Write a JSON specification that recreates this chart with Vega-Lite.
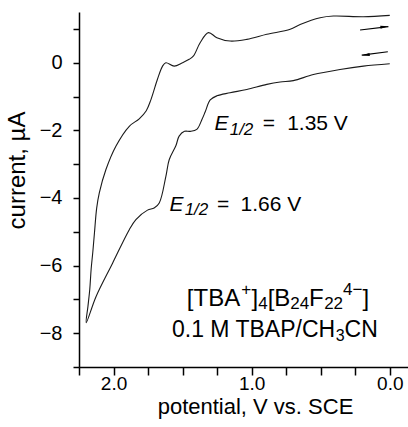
{
  "$schema": "https://vega.github.io/schema/vega-lite/v6.json",
  "width": 329,
  "height": 355,
  "autosize": {"type": "none"},
  "padding": {"left": 79, "top": 12, "right": 0, "bottom": 60},
  "config": {
    "view": {"stroke": null},
    "font": "Liberation Sans",
    "text": {"font": "Liberation Sans", "color": "black", "align": "left", "baseline": "alphabetic"}
  },
  "datasets": {
    "cv": [
      {"k": 0, "E": 0.0, "I": -0.03},
      {"k": 1, "E": 0.191, "I": -0.1},
      {"k": 2, "E": 0.36, "I": -0.2},
      {"k": 3, "E": 0.553, "I": -0.35},
      {"k": 4, "E": 0.698, "I": -0.53},
      {"k": 5, "E": 0.794, "I": -0.57},
      {"k": 6, "E": 0.89, "I": -0.64},
      {"k": 7, "E": 1.035, "I": -0.79},
      {"k": 8, "E": 1.156, "I": -0.89},
      {"k": 9, "E": 1.252, "I": -0.98},
      {"k": 10, "E": 1.3, "I": -1.1},
      {"k": 11, "E": 1.336, "I": -1.45},
      {"k": 12, "E": 1.36, "I": -1.68},
      {"k": 13, "E": 1.397, "I": -1.97},
      {"k": 14, "E": 1.445, "I": -2.03},
      {"k": 15, "E": 1.486, "I": -2.03},
      {"k": 16, "E": 1.525, "I": -2.17},
      {"k": 17, "E": 1.548, "I": -2.45},
      {"k": 18, "E": 1.597, "I": -2.87},
      {"k": 19, "E": 1.621, "I": -3.36},
      {"k": 20, "E": 1.669, "I": -4.15},
      {"k": 21, "E": 1.706, "I": -4.3},
      {"k": 22, "E": 1.754, "I": -4.36},
      {"k": 23, "E": 1.838, "I": -4.64},
      {"k": 24, "E": 1.886, "I": -4.94},
      {"k": 25, "E": 2.007, "I": -5.93},
      {"k": 26, "E": 2.127, "I": -6.92},
      {"k": 27, "E": 2.198, "I": -7.69},
      {"k": 28, "E": 2.185, "I": -7.2},
      {"k": 29, "E": 2.172, "I": -6.7},
      {"k": 30, "E": 2.162, "I": -6.1},
      {"k": 31, "E": 2.15, "I": -5.6},
      {"k": 32, "E": 2.138, "I": -5.03},
      {"k": 33, "E": 2.122, "I": -4.3},
      {"k": 34, "E": 2.103, "I": -3.85},
      {"k": 35, "E": 2.055, "I": -3.16},
      {"k": 36, "E": 1.983, "I": -2.47},
      {"k": 37, "E": 1.886, "I": -1.88},
      {"k": 38, "E": 1.814, "I": -1.66},
      {"k": 39, "E": 1.763, "I": -1.42},
      {"k": 40, "E": 1.729, "I": -1.09},
      {"k": 41, "E": 1.682, "I": -0.49},
      {"k": 42, "E": 1.645, "I": -0.1},
      {"k": 43, "E": 1.621, "I": 0.0},
      {"k": 44, "E": 1.561, "I": -0.1},
      {"k": 45, "E": 1.501, "I": 0.0},
      {"k": 46, "E": 1.452, "I": 0.1},
      {"k": 47, "E": 1.421, "I": 0.2},
      {"k": 48, "E": 1.373, "I": 0.59},
      {"k": 49, "E": 1.313, "I": 0.89},
      {"k": 50, "E": 1.252, "I": 0.74},
      {"k": 51, "E": 1.156, "I": 0.64},
      {"k": 52, "E": 1.035, "I": 0.69},
      {"k": 53, "E": 0.89, "I": 0.84},
      {"k": 54, "E": 0.721, "I": 0.99},
      {"k": 55, "E": 0.649, "I": 1.13},
      {"k": 56, "E": 0.504, "I": 1.33},
      {"k": 57, "E": 0.408, "I": 1.38},
      {"k": 58, "E": 0.191, "I": 1.36},
      {"k": 59, "E": 0.0, "I": 1.4}
    ],
    "arrows": [
      {"a": "top", "E": 0.215, "I": 0.966},
      {"a": "top", "E": 0.01, "I": 1.067},
      {"a": "bot", "E": 0.014, "I": 0.326},
      {"a": "bot", "E": 0.203, "I": 0.225}
    ],
    "headRight": [{"E": 0.039, "I": 1.063}],
    "headLeft": [{"E": 0.174, "I": 0.229}],
    "txtMain": [
      {"E": 0.92, "I": -2.0, "t": "="},
      {"E": 0.743, "I": -2.0, "t": "1.35 V"},
      {"E": 1.25, "I": -4.376, "t": "="},
      {"E": 1.08, "I": -4.376, "t": "1.66 V"}
    ],
    "txtItalic": [
      {"E": 1.269, "I": -2.0, "t": "E"},
      {"E": 1.595, "I": -4.376, "t": "E"}
    ],
    "txtItalicSub": [
      {"E": 1.159, "I": -2.14, "t": "1/2"},
      {"E": 1.485, "I": -4.51, "t": "1/2"}
    ],
    "txtLine1": [
      {"E": 1.469, "I": -7.191, "t": "[TBA"},
      {"E": 1.001, "I": -7.191, "t": "]"},
      {"E": 0.884, "I": -7.191, "t": "[B"},
      {"E": 0.584, "I": -7.191, "t": "F"},
      {"E": 0.198, "I": -7.191, "t": "]"}
    ],
    "txtLine1Small": [
      {"E": 1.076, "I": -6.865, "t": "+"},
      {"E": 0.953, "I": -7.295, "t": "4"},
      {"E": 0.72, "I": -7.295, "t": "24"},
      {"E": 0.475, "I": -7.295, "t": "22"},
      {"E": 0.339, "I": -6.865, "t": "4−"}
    ],
    "txtLine2": [
      {"E": 1.577, "I": -8.124, "t": "0.1 M TBAP/CH"},
      {"E": 0.327, "I": -8.124, "t": "CN"}
    ],
    "txtLine2Small": [
      {"E": 0.392, "I": -8.243, "t": "3"}
    ]
  },
  "encoding": {
    "x": {
      "field": "E", "type": "quantitative",
      "scale": {"domain": [-0.132, 2.25], "reverse": true, "nice": false, "zero": false},
      "axis": {
        "values": [2.25, 2, 1.75, 1.5, 1.25, 1, 0.75, 0.5, 0.25, 0],
        "labelExpr": "abs(datum.value - round(datum.value)) < 0.001 ? format(datum.value, '.1f') : ''",
        "title": "potential, V vs. SCE",
        "titleFontSize": 22, "titleFontWeight": "normal", "titleColor": "black",
        "titleX": 176, "titleY": 46, "titleBaseline": "alphabetic", "titleAlign": "center", "titleAnchor": null,
        "labelFontSize": 19, "labelColor": "black", "labelPadding": -1, "labelFlush": false, "labelOverlap": false,
        "tickSize": 8, "tickColor": "black", "tickWidth": 1.5,
        "domainColor": "black", "domainWidth": 1.5, "grid": false
      }
    },
    "y": {
      "field": "I", "type": "quantitative",
      "scale": {"domain": [-9, 1.5], "nice": false, "zero": false},
      "axis": {
        "values": [-9, -8, -7, -6, -5, -4, -3, -2, -1, 0, 1],
        "labelExpr": "datum.value % 2 == 0 ? format(datum.value, 'd') : ''",
        "title": "current, µA",
        "titleFontSize": 24, "titleFontWeight": "normal", "titleColor": "black",
        "titleX": -55, "titleY": 158, "titleBaseline": "alphabetic", "titleAlign": "center", "titleAnchor": null,
        "labelFontSize": 20, "labelColor": "black", "labelPadding": 11, "labelFlush": false, "labelOverlap": false,
        "tickSize": 6, "tickColor": "black", "tickWidth": 1.5,
        "domainColor": "black", "domainWidth": 1.5, "grid": false
      }
    }
  },
  "layer": [
    {
      "data": {"name": "cv"},
      "mark": {"type": "line", "color": "#1a1a1a", "strokeWidth": 1.1, "interpolate": "catmull-rom"},
      "encoding": {"order": {"field": "k", "type": "quantitative"}}
    },
    {
      "data": {"name": "arrows"},
      "mark": {"type": "line", "color": "black", "strokeWidth": 1.1},
      "encoding": {"detail": {"field": "a"}}
    },
    {
      "data": {"name": "headRight"},
      "mark": {"type": "point", "shape": "M-1,-0.4L1,0L-1,0.4Z", "size": 64, "angle": -7, "filled": true, "color": "black", "opacity": 1}
    },
    {
      "data": {"name": "headLeft"},
      "mark": {"type": "point", "shape": "M1,-0.4L-1,0L1,0.4Z", "size": 64, "angle": -7, "filled": true, "color": "black", "opacity": 1}
    },
    {
      "data": {"name": "txtMain"},
      "mark": {"type": "text", "fontSize": 21},
      "encoding": {"text": {"field": "t"}}
    },
    {
      "data": {"name": "txtItalic"},
      "mark": {"type": "text", "fontSize": 21, "fontStyle": "italic"},
      "encoding": {"text": {"field": "t"}}
    },
    {
      "data": {"name": "txtItalicSub"},
      "mark": {"type": "text", "fontSize": 17, "fontStyle": "italic"},
      "encoding": {"text": {"field": "t"}}
    },
    {
      "data": {"name": "txtLine1"},
      "mark": {"type": "text", "fontSize": 24},
      "encoding": {"text": {"field": "t"}}
    },
    {
      "data": {"name": "txtLine1Small"},
      "mark": {"type": "text", "fontSize": 17},
      "encoding": {"text": {"field": "t"}}
    },
    {
      "data": {"name": "txtLine2"},
      "mark": {"type": "text", "fontSize": 23},
      "encoding": {"text": {"field": "t"}}
    },
    {
      "data": {"name": "txtLine2Small"},
      "mark": {"type": "text", "fontSize": 16},
      "encoding": {"text": {"field": "t"}}
    }
  ]
}
